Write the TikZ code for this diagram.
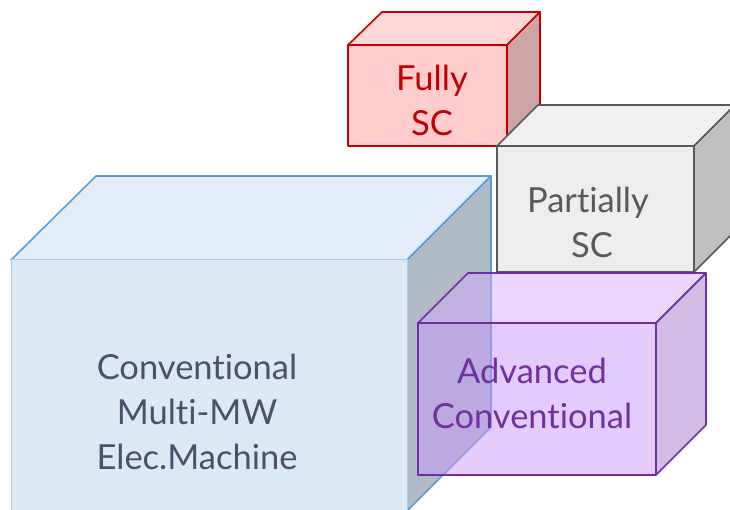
\documentclass[tikz,border=0pt]{standalone}
\usepackage{fontspec}
\setmainfont{Lato}[Ligatures=NoCommon]
\definecolor{redline}{HTML}{C00000}
\definecolor{redfront}{HTML}{FFCCCC}
\definecolor{redtop}{HTML}{FFD7D7}
\definecolor{redside}{HTML}{CFA4A4}
\definecolor{grayline}{HTML}{595959}
\definecolor{grayfront}{HTML}{EDEDED}
\definecolor{graytop}{HTML}{F0F0F0}
\definecolor{grayside}{HTML}{BFBFBF}
\definecolor{blueline}{HTML}{5B9BD5}
\definecolor{bluefrontline}{HTML}{A9CBEA}
\definecolor{bluefront}{HTML}{DDE8F5}
\definecolor{bluetop}{HTML}{E3EDF8}
\definecolor{blueside}{HTML}{B1BBC5}
\definecolor{bluetext}{HTML}{44546A}
\definecolor{purpleline}{HTML}{7030A0}
\definecolor{purplefront}{HTML}{C799FB}
\definecolor{purpletop}{HTML}{D5ADFF}
\definecolor{purpleside}{HTML}{A97BCB}
\tikzset{
    face/.style={line width=1.6pt, line join=round},
    boxlabel/.style={align=center, inner sep=0pt, font=\fontsize{34.5}{45}\selectfont}
}

\begin{document}
\begin{tikzpicture}[x=1pt, y=-1pt]
        \useasboundingbox (0,0) rectangle (730,510);
        \clip (0,0) rectangle (730,510);
        % fully superconducting
        \draw [face, draw=redline, fill=redtop] (348,45) -- (382,12) -- (540,12) -- (507,45) -- cycle;
        \draw [face, draw=redline, fill=redside] (507,45) -- (540,12) -- (540,113) -- (507,146) -- cycle;
        \draw [face, draw=redline, fill=redfront] (348,45) rectangle (507,146);
        \node (fully) [boxlabel, text=redline] at (432,100) {Fully\\SC};
        % partially superconducting
        \draw [face, draw=grayline, fill=graytop] (497,146) -- (538,105) -- (735,105) -- (694,146) -- cycle;
        \draw [face, draw=grayline, fill=grayside] (694,146) -- (735,105) -- (735,231) -- (694,272) -- cycle;
        \draw [face, draw=grayline, fill=grayfront] (497,146) rectangle (694,272);
        \node (partial) [boxlabel, text=grayline] at (588,222) {Partially\\\hspace*{8pt}SC};
        % conventional
        \draw [face, draw=blueline, fill=bluetop] (11,260) -- (96,176) -- (491,176) -- (407,260) -- cycle;
        \draw [face, draw=blueline, fill=blueside] (407,260) -- (491,176) -- (491,427) -- (407,511) -- cycle;
        \draw [face, line width=1pt, draw=bluefrontline, fill=bluefront] (11,260) rectangle (407,520);
        \node (conv) [boxlabel, text=bluetext] at (197,412) {Conventional\\Multi-MW\\Elec.Machine};
        % advanced conventional
        \begin{scope}[fill opacity=0.5]
                \draw [face, draw=purpleline, fill=purpletop] (418,323) -- (468,273) -- (706,273) -- (656,323) -- cycle;
                \draw [face, draw=purpleline, fill=purpleside] (656,323) -- (706,273) -- (706,425) -- (656,475) -- cycle;
                \draw [face, draw=purpleline, fill=purplefront] (418,323) rectangle (656,475);
        \end{scope}
        \node (adv) [boxlabel, text=purpleline] at (532,393) {Advanced\\Conventional};
\end{tikzpicture}
\end{document}
